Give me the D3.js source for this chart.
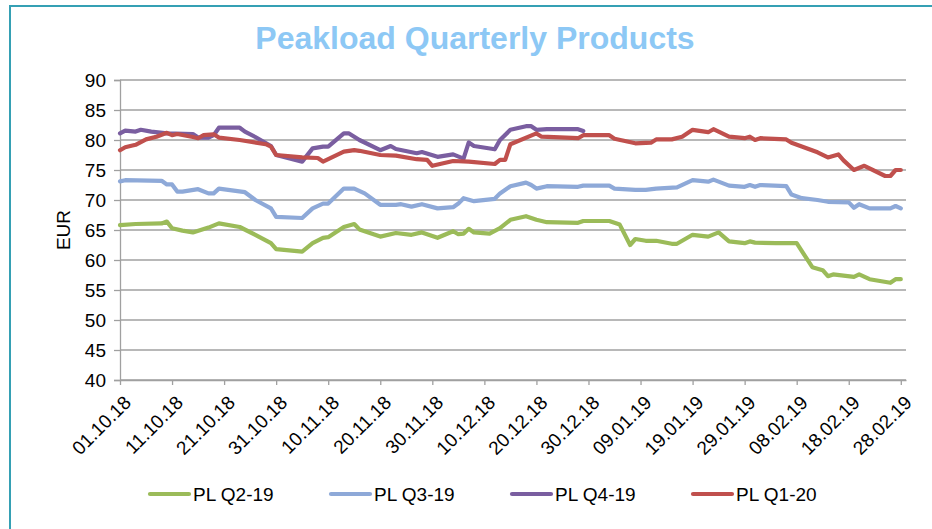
<!DOCTYPE html>
<html>
<head>
<meta charset="utf-8">
<script src="https://cdn.jsdelivr.net/npm/d3@7"></script>
<style>
  body { margin: 0; background: #fff; }
  svg text { font-family: "Liberation Sans", Arial, sans-serif; fill: #000; }
</style>
</head>
<body>
<div id="chart"></div>
<script>
// values, date -> EUR
var q2_19 = [
  ["01.10.18", 65.8], ["04.10.18", 66.0], ["09.10.18", 66.1], ["10.10.18", 66.4], ["11.10.18", 65.3],
  ["13.10.18", 64.9], ["15.10.18", 64.6], ["18.10.18", 65.4], ["20.10.18", 66.1], ["24.10.18", 65.5],
  ["27.10.18", 64.2], ["30.10.18", 62.8], ["31.10.18", 61.8], ["05.11.18", 61.4], ["07.11.18", 62.8],
  ["09.11.18", 63.7], ["10.11.18", 63.8], ["13.11.18", 65.5], ["15.11.18", 66.0], ["16.11.18", 65.1],
  ["20.11.18", 63.9], ["23.11.18", 64.5], ["26.11.18", 64.2], ["28.11.18", 64.6], ["01.12.18", 63.7],
  ["04.12.18", 64.8], ["05.12.18", 64.3], ["06.12.18", 64.4], ["07.12.18", 65.2], ["08.12.18", 64.6],
  ["11.12.18", 64.4], ["13.12.18", 65.3], ["15.12.18", 66.7], ["18.12.18", 67.3], ["20.12.18", 66.7],
  ["22.12.18", 66.3], ["28.12.18", 66.2], ["29.12.18", 66.5], ["03.01.19", 66.5], ["05.01.19", 65.9],
  ["07.01.19", 62.5], ["08.01.19", 63.5], ["10.01.19", 63.2], ["12.01.19", 63.2], ["15.01.19", 62.7],
  ["16.01.19", 62.7], ["19.01.19", 64.2], ["22.01.19", 63.9], ["24.01.19", 64.6], ["26.01.19", 63.1],
  ["29.01.19", 62.8], ["30.01.19", 63.1], ["31.01.19", 62.9], ["04.02.19", 62.8], ["08.02.19", 62.8],
  ["11.02.19", 58.8], ["13.02.19", 58.3], ["14.02.19", 57.3], ["15.02.19", 57.6], ["19.02.19", 57.2],
  ["20.02.19", 57.6], ["22.02.19", 56.8], ["26.02.19", 56.2], ["27.02.19", 56.8], ["28.02.19", 56.8]
];

var q3_19 = [
  ["01.10.18", 73.1], ["02.10.18", 73.3], ["09.10.18", 73.2], ["10.10.18", 72.6], ["11.10.18", 72.6],
  ["12.10.18", 71.4], ["13.10.18", 71.4], ["16.10.18", 71.8], ["18.10.18", 71.1], ["19.10.18", 71.1],
  ["20.10.18", 71.9], ["25.10.18", 71.3], ["27.10.18", 70.0], ["30.10.18", 68.6], ["31.10.18", 67.2],
  ["05.11.18", 67.0], ["07.11.18", 68.6], ["09.11.18", 69.4], ["10.11.18", 69.4], ["13.11.18", 71.9],
  ["15.11.18", 71.9], ["17.11.18", 71.1], ["20.11.18", 69.2], ["23.11.18", 69.2], ["24.11.18", 69.3],
  ["26.11.18", 68.9], ["28.11.18", 69.3], ["01.12.18", 68.6], ["04.12.18", 68.8], ["05.12.18", 69.4],
  ["06.12.18", 70.3], ["08.12.18", 69.8], ["12.12.18", 70.2], ["13.12.18", 71.1], ["15.12.18", 72.3],
  ["18.12.18", 72.9], ["19.12.18", 72.5], ["20.12.18", 71.9], ["22.12.18", 72.3], ["28.12.18", 72.2],
  ["29.12.18", 72.4], ["03.01.19", 72.4], ["04.01.19", 71.9], ["08.01.19", 71.7], ["10.01.19", 71.7],
  ["12.01.19", 71.9], ["16.01.19", 72.1], ["19.01.19", 73.3], ["22.01.19", 73.05], ["23.01.19", 73.4],
  ["26.01.19", 72.4], ["29.01.19", 72.2], ["30.01.19", 72.5], ["31.01.19", 72.2], ["01.02.19", 72.5],
  ["06.02.19", 72.3], ["07.02.19", 70.9], ["09.02.19", 70.3], ["12.02.19", 70.0], ["14.02.19", 69.7],
  ["18.02.19", 69.6], ["19.02.19", 68.7], ["20.02.19", 69.3], ["22.02.19", 68.6], ["26.02.19", 68.6],
  ["27.02.19", 69.0], ["28.02.19", 68.6]
];

var q4_19 = [
  ["01.10.18", 81.1], ["02.10.18", 81.55], ["04.10.18", 81.4], ["05.10.18", 81.7], ["07.10.18", 81.4],
  ["10.10.18", 81.1], ["15.10.18", 81.0], ["16.10.18", 80.4], ["18.10.18", 80.4], ["19.10.18", 80.8],
  ["20.10.18", 82.05], ["24.10.18", 82.05], ["25.10.18", 81.4], ["27.10.18", 80.5], ["30.10.18", 79.0],
  ["31.10.18", 77.5], ["05.11.18", 76.4], ["07.11.18", 78.6], ["09.11.18", 78.9], ["10.11.18", 78.9],
  ["13.11.18", 81.1], ["14.11.18", 81.1], ["16.11.18", 80.0], ["20.11.18", 78.3], ["22.11.18", 79.0],
  ["23.11.18", 78.5], ["27.11.18", 77.8], ["28.11.18", 78.0], ["01.12.18", 77.2], ["04.12.18", 77.6],
  ["06.12.18", 76.9], ["07.12.18", 79.6], ["08.12.18", 79.0], ["12.12.18", 78.45], ["13.12.18", 80.0],
  ["15.12.18", 81.7], ["18.12.18", 82.3], ["19.12.18", 82.3], ["20.12.18", 81.7], ["22.12.18", 81.8],
  ["28.12.18", 81.8], ["29.12.18", 81.5]
];

var q1_20 = [
  ["01.10.18", 78.3], ["02.10.18", 78.8], ["04.10.18", 79.2], ["06.10.18", 80.1], ["08.10.18", 80.55],
  ["10.10.18", 81.2], ["11.10.18", 80.8], ["12.10.18", 81.0], ["15.10.18", 80.5], ["16.10.18", 80.3],
  ["17.10.18", 80.8], ["19.10.18", 80.95], ["20.10.18", 80.4], ["24.10.18", 80.0], ["29.10.18", 79.3],
  ["30.10.18", 78.9], ["31.10.18", 77.5], ["05.11.18", 77.1], ["08.11.18", 77.0], ["09.11.18", 76.4],
  ["13.11.18", 78.05], ["15.11.18", 78.3], ["16.11.18", 78.2], ["20.11.18", 77.5], ["23.11.18", 77.4],
  ["27.11.18", 76.8], ["29.11.18", 76.7], ["30.11.18", 75.7], ["04.12.18", 76.5], ["07.12.18", 76.4],
  ["12.12.18", 76.0], ["13.12.18", 76.7], ["14.12.18", 76.7], ["15.12.18", 79.3], ["20.12.18", 81.1],
  ["21.12.18", 80.55], ["28.12.18", 80.3], ["29.12.18", 80.8], ["03.01.19", 80.8], ["04.01.19", 80.2],
  ["08.01.19", 79.45], ["11.01.19", 79.55], ["12.01.19", 80.1], ["15.01.19", 80.1], ["17.01.19", 80.55],
  ["19.01.19", 81.7], ["22.01.19", 81.3], ["23.01.19", 81.8], ["26.01.19", 80.55], ["29.01.19", 80.3],
  ["30.01.19", 80.55], ["31.01.19", 80.0], ["01.02.19", 80.3], ["06.02.19", 80.1], ["07.02.19", 79.55],
  ["12.02.19", 77.95], ["14.02.19", 77.1], ["16.02.19", 77.6], ["17.02.19", 76.6], ["19.02.19", 75.0],
  ["21.02.19", 75.7], ["25.02.19", 74.0], ["26.02.19", 74.0], ["27.02.19", 75.0], ["28.02.19", 75.0]
];

var seriesNames  = ["PL Q2-19", "PL Q3-19", "PL Q4-19", "PL Q1-20"];
var seriesColors = ["#9BBB59", "#8EA9D8", "#7A5EA0", "#C0504D"];
var seriesData   = [q2_19, q3_19, q4_19, q1_20];

var xTickLabels = ["01.10.18", "11.10.18", "21.10.18", "31.10.18", "10.11.18", "20.11.18", "30.11.18", "10.12.18",
                   "20.12.18", "30.12.18", "09.01.19", "19.01.19", "29.01.19", "08.02.19", "18.02.19", "28.02.19"];
var yTicks = [40, 45, 50, 55, 60, 65, 70, 75, 80, 85, 90];

makeChart();

function makeChart() {
  var width = 932, height = 529;
  var parseDate = d3.timeParse("%d.%m.%y");

  var svg = d3.select("#chart").append("svg")
      .attr("width", width)
      .attr("height", height);

  // frame (only top + left edges are visible in the reference)
  svg.append("path")
      .attr("d", "M10,529 L10,6 L932,6")
      .attr("fill", "none")
      .attr("stroke", "#35A0B4")
      .attr("stroke-width", 2);

  svg.append("text")
      .attr("x", 475)
      .attr("y", 49)
      .attr("text-anchor", "middle")
      .style("font-size", "32px")
      .style("font-weight", "bold")
      .style("fill", "#8DC8F5")
      .text("Peakload Quarterly Products");

  var x = d3.scaleTime()
      .domain([parseDate("01.10.18"), parseDate("01.03.19")])
      .range([120, 906]);

  var y = d3.scaleLinear()
      .domain([40, 90])
      .range([380, 80]);

  // gridlines
  svg.append("g")
      .selectAll("line")
      .data(yTicks)
      .enter()
      .append("line")
        .attr("x1", 120)
        .attr("x2", 906)
        .attr("y1", function(d) { return y(d); })
        .attr("y2", function(d) { return y(d); })
        .attr("stroke", "#A0A0A0")
        .attr("stroke-width", 1.3);

  var yAxis = d3.axisLeft(y)
      .tickValues(yTicks)
      .tickSize(6)
      .tickPadding(8);

  var yg = svg.append("g")
      .attr("transform", "translate(120,0)")
      .call(yAxis);
  yg.selectAll("path, line").attr("stroke", "#A0A0A0").attr("stroke-width", 1.3);
  yg.selectAll("text").style("font-size", "19px").attr("dy", "0.36em");

  var xAxis = d3.axisBottom(x)
      .tickValues(xTickLabels.map(parseDate))
      .tickFormat(d3.timeFormat("%d.%m.%y"))
      .tickSize(5)
      .tickSizeOuter(0);

  var xg = svg.append("g")
      .attr("transform", "translate(0,380)")
      .call(xAxis);
  xg.select(".domain").attr("stroke", "#A0A0A0").attr("stroke-width", 1.3);
  xg.selectAll("line").attr("stroke", "#A0A0A0").attr("stroke-width", 1.3);
  xg.selectAll("text")
      .style("font-size", "19px")
      .attr("text-anchor", "end")
      .attr("x", 0)
      .attr("y", 0)
      .attr("dy", "0.5em")
      .attr("transform", "translate(5,17) rotate(-45)");

  svg.append("text")
      .attr("transform", "translate(70,230) rotate(-90)")
      .attr("text-anchor", "middle")
      .style("font-size", "19px")
      .text("EUR");

  var line = d3.line()
      .x(function(d) { return x(parseDate(d[0])); })
      .y(function(d) { return y(d[1]); });

  svg.append("g")
      .selectAll("path")
      .data(seriesData)
      .enter()
      .append("path")
        .attr("d", line)
        .attr("fill", "none")
        .attr("stroke", function(d, i) { return seriesColors[i]; })
        .attr("stroke-width", 4.2)
        .attr("stroke-linejoin", "round")
        .attr("stroke-linecap", "round");

  // legend
  var legend = svg.append("g")
      .selectAll("g")
      .data(seriesNames)
      .enter()
      .append("g")
        .attr("transform", function(d, i) { return "translate(" + (150 + i * 181) + ",494)"; });

  legend.append("line")
      .attr("x1", 0)
      .attr("x2", 39)
      .attr("stroke", function(d, i) { return seriesColors[i]; })
      .attr("stroke-width", 4.2)
      .attr("stroke-linecap", "round");

  legend.append("text")
      .attr("x", 43)
      .attr("y", 7)
      .style("font-size", "19px")
      .text(function(d) { return d; });
}
</script>
</body>
</html>
